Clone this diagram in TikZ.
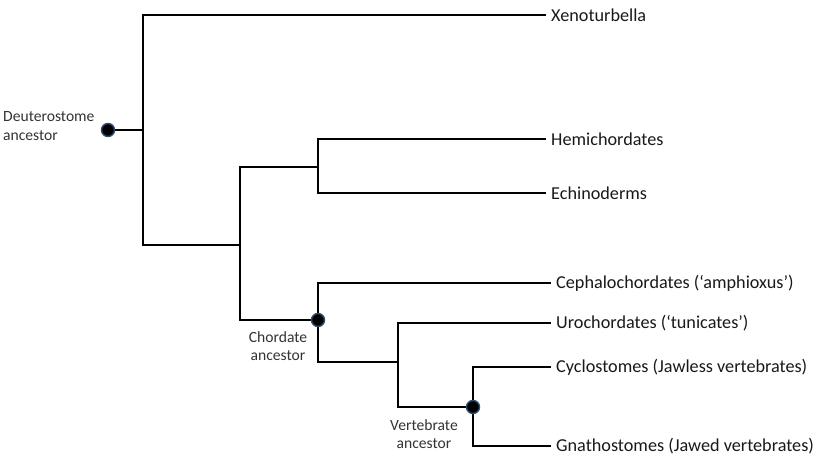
\documentclass[tikz,border=0pt]{standalone}
\usepackage{fontspec}
\setmainfont{Carlito}
\definecolor{dotrim}{HTML}{2F4A72}
\begin{document}
\begin{tikzpicture}[x=1pt,y=-1pt,
  branch/.style={line width=2.1pt,line cap=rect},
  taxon/.style={anchor=west,inner sep=0pt,font=\fontsize{18.2}{21}\selectfont,text=black!90},
  anc/.style={align=center,inner sep=0pt,font=\fontsize{15.6}{18.5}\selectfont,text=black!80},
  ancdot/.style={circle,fill=black,draw=dotrim,line width=1.4pt,minimum size=13pt,inner sep=0pt}]
\useasboundingbox (0,0) rectangle (814,455);
% coordinates
\coordinate (root) at (108,130);
\coordinate (j1) at (143,130);
\coordinate (j1t) at (143,15);
\coordinate (j1b) at (143,245);
\coordinate (j2) at (240,245);
\coordinate (j2t) at (240,167);
\coordinate (j2b) at (240,320);
\coordinate (j3) at (318,167);
\coordinate (j3t) at (318,139);
\coordinate (j3b) at (318,193);
\coordinate (cho) at (318,320);
\coordinate (chot) at (318,283);
\coordinate (chob) at (318,362);
\coordinate (j4) at (398,362);
\coordinate (j4t) at (398,323);
\coordinate (j4b) at (398,407);
\coordinate (ver) at (473,407);
\coordinate (vert) at (473,367);
\coordinate (verb) at (473,446);
% taxa
\node[taxon] (xen) at (551,15) {Xenoturbella};
\node[taxon] (hem) at (551,139) {Hemichordates};
\node[taxon] (ech) at (551,193) {Echinoderms};
\node[taxon] (cep) at (556,283) {Cephalochordates (‘amphioxus’)};
\node[taxon] (uro) at (556,323) {Urochordates (‘tunicates’)};
\node[taxon] (cyc) at (556,367) {Cyclostomes (Jawless vertebrates)};
\node[taxon] (gna) at (556,446) {Gnathostomes (Jawed vertebrates)};
% branches
\draw[branch] (root) -- (j1);
\draw[branch] (j1t) -- (j1b);
\draw[branch] (j1t) -- ([xshift=-6pt]xen.west);
\draw[branch] (j1b) -- (j2);
\draw[branch] (j2t) -- (j2b);
\draw[branch] (j2t) -- (j3);
\draw[branch] (j3t) -- (j3b);
\draw[branch] (j3t) -- ([xshift=-6pt]hem.west);
\draw[branch] (j3b) -- ([xshift=-6pt]ech.west);
\draw[branch] (j2b) -- (cho);
\draw[branch] (chot) -- (chob);
\draw[branch] (chot) -- ([xshift=-6pt]cep.west);
\draw[branch] (chob) -- (j4);
\draw[branch] (j4t) -- (j4b);
\draw[branch] (j4t) -- ([xshift=-6pt]uro.west);
\draw[branch] (j4b) -- (ver);
\draw[branch] (vert) -- (verb);
\draw[branch] (vert) -- ([xshift=-6pt]cyc.west);
\draw[branch] (verb) -- ([xshift=-6pt]gna.west);
% ancestor dots
\node[ancdot] (d1) at (root) {};
\node[ancdot] (d2) at (cho) {};
\node[ancdot] (d3) at (ver) {};
% ancestor labels
\node[anc,anchor=west,align=left] (l1) at (3,126) {Deuterostome\\ancestor};
\node[anc] (l2) at (278,346) {Chordate\\ancestor};
\node[anc] (l3) at (424,434) {Vertebrate\\ancestor};
\end{tikzpicture}
\end{document}
